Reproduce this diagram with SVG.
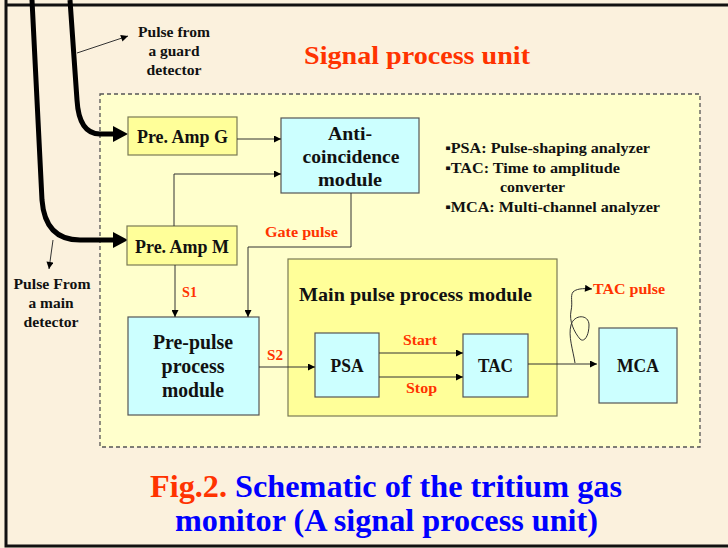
<svg xmlns="http://www.w3.org/2000/svg" width="728" height="548" viewBox="0 0 728 548">
  <defs>
    <style>
      .bg { fill: #FBF1DD; }
      .frame { fill: none; stroke: #111; stroke-width: 3; }
      .unit { fill: #FFFFCC; stroke: #555; stroke-width: 1.3; stroke-dasharray: 4 3; }
      .amp { fill: #FFFF99; stroke: #7A7A55; stroke-width: 1.2; }
      .mod { fill: #CCFFFF; stroke: #555; stroke-width: 1.2; }
      .t { font-family: "Liberation Serif", "Times New Roman", serif; font-weight: bold; fill: #111; }
      .red { fill: #FF3300; }
      .blue { fill: #0000FF; }
      .wire { fill: none; stroke: #333; stroke-width: 1; }
      .cable { fill: none; stroke: #000; stroke-width: 5; }
    </style>
    <marker id="arr" viewBox="0 0 10 10" refX="10" refY="5" markerWidth="8" markerHeight="7" markerUnits="userSpaceOnUse" orient="auto">
      <path d="M0,0 L10,5 L0,10 z" fill="#000"/>
    </marker>
  </defs>

  <!-- page -->
  <rect class="bg" x="0" y="0" width="728" height="548"/>
  <path class="frame" d="M6,0 V546 H728 M6,5 H728"/>

  <text class="t red" x="304" y="64" font-size="26" textLength="226" lengthAdjust="spacingAndGlyphs">Signal process unit</text>

  <!-- signal process unit boundary -->
  <rect class="unit" x="100" y="94" width="600" height="353"/>

  <!-- detector cables -->
  <g id="cables">
    <path class="cable" d="M32,0 L42,200 Q45,240 80,240 L113,240"/>
    <path class="cable" d="M70,0 L77,100 Q79,134 100,134 L113,134"/>
    <path d="M113,126 L128,134 L113,142 z" fill="#000"/>
    <path d="M113,232 L128,240 L113,248 z" fill="#000"/>
    <path class="wire" d="M77,53 L128,36" marker-end="url(#arr)"/>
    <path class="wire" d="M53,240 L49,269" marker-end="url(#arr)"/>
  </g>

  <g id="guard-label" class="t" font-size="15" text-anchor="middle">
    <text x="174" y="37" textLength="72" lengthAdjust="spacingAndGlyphs">Pulse from</text>
    <text x="174" y="56" textLength="51" lengthAdjust="spacingAndGlyphs">a guard</text>
    <text x="174" y="75" textLength="55" lengthAdjust="spacingAndGlyphs">detector</text>
  </g>
  <g id="main-label" class="t" font-size="15" text-anchor="middle">
    <text x="52" y="289" textLength="77" lengthAdjust="spacingAndGlyphs">Pulse From</text>
    <text x="51" y="308" textLength="45" lengthAdjust="spacingAndGlyphs">a main</text>
    <text x="51" y="327" textLength="55" lengthAdjust="spacingAndGlyphs">detector</text>
  </g>

  <!-- nodes -->
  <g id="preamp-g">
    <rect class="amp" x="128" y="117" width="109" height="38"/>
    <text class="t" x="182.5" y="143" font-size="18" text-anchor="middle" textLength="91" lengthAdjust="spacingAndGlyphs">Pre. Amp G</text>
  </g>
  <g id="preamp-m">
    <rect class="amp" x="127" y="226" width="110" height="39"/>
    <text class="t" x="182" y="253" font-size="18" text-anchor="middle" textLength="94" lengthAdjust="spacingAndGlyphs">Pre. Amp M</text>
  </g>
  <g id="anti-coincidence">
    <rect class="mod" x="281" y="118" width="138" height="75"/>
    <g class="t" font-size="19" text-anchor="middle">
      <text x="350" y="140" textLength="44" lengthAdjust="spacingAndGlyphs">Anti-</text>
      <text x="351" y="163" textLength="97" lengthAdjust="spacingAndGlyphs">coincidence</text>
      <text x="350" y="186" textLength="64" lengthAdjust="spacingAndGlyphs">module</text>
    </g>
  </g>
  <g id="pre-pulse">
    <rect class="mod" x="128" y="317" width="131" height="98"/>
    <g class="t" font-size="20" text-anchor="middle">
      <text x="193" y="349" textLength="80" lengthAdjust="spacingAndGlyphs">Pre-pulse</text>
      <text x="193" y="373" textLength="63" lengthAdjust="spacingAndGlyphs">process</text>
      <text x="193" y="397" textLength="62" lengthAdjust="spacingAndGlyphs">module</text>
    </g>
  </g>
  <g id="main-pulse">
    <rect class="amp" x="288" y="259" width="269" height="157"/>
    <text class="t" x="299" y="301" font-size="19" textLength="233" lengthAdjust="spacingAndGlyphs">Main pulse process module</text>
  </g>
  <g id="psa">
    <rect class="mod" x="315" y="333" width="64" height="64"/>
    <text class="t" x="347" y="372" font-size="18" text-anchor="middle" textLength="33" lengthAdjust="spacingAndGlyphs">PSA</text>
  </g>
  <g id="tac">
    <rect class="mod" x="463" y="334" width="65" height="63"/>
    <text class="t" x="495.5" y="372" font-size="18" text-anchor="middle" textLength="35" lengthAdjust="spacingAndGlyphs">TAC</text>
  </g>
  <g id="mca">
    <rect class="mod" x="599" y="328" width="78" height="75"/>
    <text class="t" x="638" y="372" font-size="18" text-anchor="middle" textLength="42" lengthAdjust="spacingAndGlyphs">MCA</text>
  </g>

  <!-- connectors -->
  <g id="connectors">
    <path class="wire" d="M237,139 H281" marker-end="url(#arr)"/>
    <path class="wire" d="M174,226 V174 H281" marker-end="url(#arr)"/>
    <path class="wire" d="M351,193 V247 H248 V317" marker-end="url(#arr)"/>
    <path class="wire" d="M175,265 V317" marker-end="url(#arr)"/>
    <path class="wire" d="M259,367 H315" marker-end="url(#arr)"/>
    <path class="wire" d="M379,353 H463" marker-end="url(#arr)"/>
    <path class="wire" d="M379,377 H463" marker-end="url(#arr)"/>
    <path class="wire" d="M528,364 H597" marker-end="url(#arr)"/>
    <path class="wire" d="M575,363 C573,350 568,336 571,325 C574,314 589,314 589,325 C589,336 584,343 580,339 C574,332 569,321 571,311 C573,302 570,296 573,292 C576,289 582,288 592,289" marker-end="url(#arr)"/>
  </g>

  <!-- connector labels -->
  <g class="t red" font-size="15">
    <text x="265" y="237" textLength="73" lengthAdjust="spacingAndGlyphs">Gate pulse</text>
    <text x="182" y="297" textLength="15" lengthAdjust="spacingAndGlyphs">S1</text>
    <text x="267" y="360" textLength="16" lengthAdjust="spacingAndGlyphs">S2</text>
    <text x="403" y="345" textLength="34" lengthAdjust="spacingAndGlyphs">Start</text>
    <text x="406" y="393" textLength="31" lengthAdjust="spacingAndGlyphs">Stop</text>
    <text x="593" y="294" textLength="72" lengthAdjust="spacingAndGlyphs">TAC pulse</text>
  </g>

  <!-- abbreviations -->
  <g id="legend" class="t" font-size="14.5">
    <text x="445" y="153" textLength="205" lengthAdjust="spacingAndGlyphs">▪PSA: Pulse-shaping analyzer</text>
    <text x="445" y="173" textLength="175" lengthAdjust="spacingAndGlyphs">▪TAC: Time to amplitude</text>
    <text x="500" y="192" textLength="65" lengthAdjust="spacingAndGlyphs">converter</text>
    <text x="445" y="212" textLength="215" lengthAdjust="spacingAndGlyphs">▪MCA: Multi-channel analyzer</text>
  </g>

  <!-- caption -->
  <text class="t" x="150" y="497" font-size="31" textLength="472" lengthAdjust="spacingAndGlyphs"><tspan class="red">Fig.2.</tspan><tspan class="blue"> Schematic of the tritium gas</tspan></text>
  <text class="t blue" x="175" y="531" font-size="31" textLength="423" lengthAdjust="spacingAndGlyphs">monitor (A signal process unit)</text>
</svg>
